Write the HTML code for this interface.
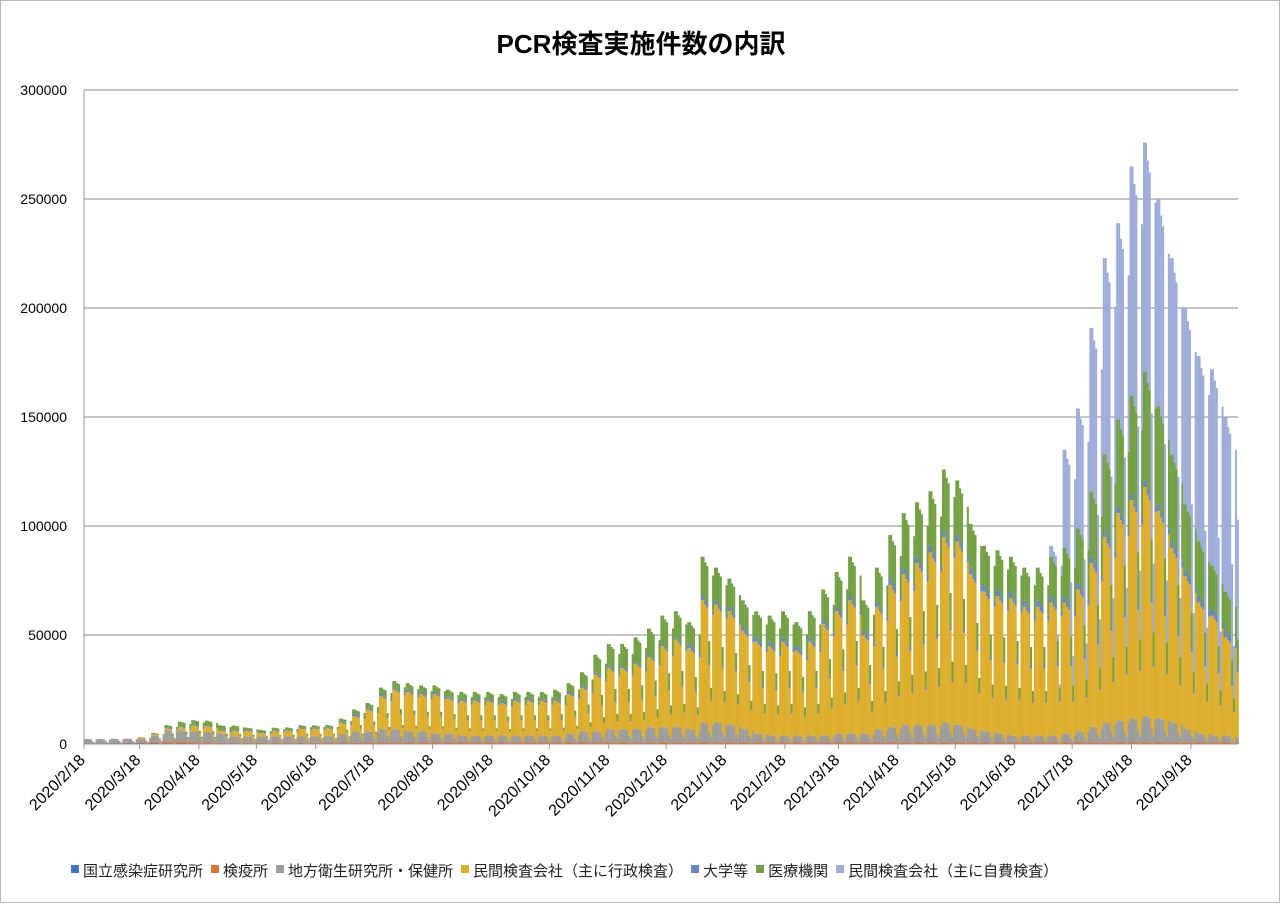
<!DOCTYPE html>
<html><head><meta charset="utf-8">
<style>
html,body{margin:0;padding:0;background:#fff;}
#wrap{position:relative;width:1278px;height:901px;border:1px solid #bbb;font-family:"Liberation Sans","Noto Sans CJK JP",sans-serif;}
svg{position:absolute;left:0;top:0;}
</style></head>
<body>
<div id="wrap">
<svg id="chart" width="1280" height="903">
<text x="640" y="52" text-anchor="middle" font-size="26" font-weight="bold" fill="#000">PCR検査実施件数の内訳</text>
</svg>
</div>
<script>
const startDate = "2020-02-18";
const dayCount = 603;
const tickLabels = ["2020/2/18","2020/3/18","2020/4/18","2020/5/18","2020/6/18","2020/7/18","2020/8/18","2020/9/18","2020/10/18","2020/11/18","2020/12/18","2021/1/18","2021/2/18","2021/3/18","2021/4/18","2021/5/18","2021/6/18","2021/7/18","2021/8/18","2021/9/18"];
const yTicks = [0,50000,100000,150000,200000,250000,300000];
const seriesNames = ["国立感染症研究所","検疫所","地方衛生研究所・保健所","民間検査会社（主に行政検査）","大学等","医療機関","民間検査会社（主に自費検査）"];
const seriesColors = ["#4472c4","#d9773a","#9c9c9c","#dcae2c","#6688bf","#72a043","#9eacda"];
// weekly weekday-level values (thousands of tests), week 0 starts 2020/2/18
const niidWeekly = [0.2,0.2,0.2,0.2,0.2,0.2,0.2,0.2,0.1,0.1,0.1,0.1,0.1,0.1,0.1,0.1,0.1,0.1,0.1,0.1,0.1,0.1,0.1,0.1,0.1,0.1,0.1,0.1,0.1,0.1,0.1,0.1,0.1,0.1,0.1,0.1,0.1,0.1,0.1,0.1,0.1,0.1,0.1,0.1,0.1,0.1,0.1,0.1,0.1,0.1,0.1,0.1,0.1,0.1,0.1,0.1,0.1,0.1,0.1,0.1,0.1,0.1,0.1,0.1,0.1,0.1,0.1,0.1,0.1,0.1,0.1,0.1,0.1,0.1,0.1,0.1,0.1,0.1,0.1,0.1,0.1,0.1,0.1,0.1,0.1,0.1,0.1];
const quarantineWeekly = [0.1,0.1,0.2,0.3,0.5,0.8,1,1,0.8,0.6,0.5,0.4,0.4,0.4,0.4,0.5,0.5,0.5,0.6,0.6,0.7,0.7,0.8,0.8,0.8,0.8,0.8,0.8,0.8,0.8,0.8,0.8,0.8,0.8,0.8,0.8,0.8,0.8,0.8,0.8,0.8,0.8,0.8,0.8,0.8,0.8,0.8,0.8,0.8,0.8,0.8,0.8,0.8,0.8,0.8,0.8,0.8,0.8,0.8,0.8,0.8,0.8,0.8,0.8,0.8,0.8,0.8,0.8,0.8,0.8,0.8,0.8,0.8,0.8,0.8,0.8,0.8,0.8,0.8,0.8,0.8,0.8,0.8,0.8,0.8,0.8,0.8];
const localLabWeekly = [2,2,2,2,2,3,5,5,5,5,4,3,3,3,3,3,3,3,3,4,5,5,6,6,5,5,4,4,3,3,3,3,3,3,3,3,4,5,5,6,6,6,7,7,7,6,9,9,8,6,4,3,3,3,3,3,4,4,4,6,7,8,8,8,9,8,6,5,4,3,3,3,3,4,5,7,9,10,11,12,11,9,6,4,3,3,2];
const privateAdminWeekly = [0,0,0,0,0.5,0.5,1,1.5,2.5,2.5,1.5,2.5,2.5,1.5,2.5,2.5,3.5,3.5,3.5,5,7,10,15,18,18,17,18,16,16,16,16,15,16,16,16,16,18,20,26,28,28,30,32,37,40,37,56,54,52,45,42,41,43,39,43,51,56,61,45,56,65,69,74,79,85,84,71,64,63,63,59,59,61,60,65,75,85,95,100,105,95,80,70,60,55,45,30];
const universityWeekly = [0,0,0,0,0,0,0.5,0.5,0.5,0.5,0.5,0.5,0.5,0.5,0.5,0.5,0.5,0.5,0.5,0.5,1,1,1,1,1,1,1,1,1,1,1,1,1,1,1,1,1,1,1,1,1,1,1,1,1,2,2,2,2,2,2,2,2,2,2,2,2,2,2,2,3,3,3,3,3,3,3,3,3,3,3,3,3,3,3,3,3,3,3,3,3,3,3,3,3,3,3];
const medicalWeekly = [0,0,0,0,0,0.5,1,2,2,2,2,2,1,1,1,1,1,1,1,1.5,2,2,3,3,3,3,3,3,3,3,3,3,3,3,3,4,4,6,8,10,10,11,12,13,12,10,18,15,13,12,12,12,12,11,12,14,16,18,14,16,20,25,25,25,28,25,20,18,18,16,15,15,18,22,25,30,35,40,45,50,45,40,30,25,20,18,12];
const privateSelfWeekly = [0,0,0,0,0,0,0,0,0,0,0,0,0,0,0,0,0,0,0,0,0,0,0,0,0,0,0,0,0,0,0,0,0,0,0,0,0,0,0,0,0,0,0,0,0,0,0,0,0,0,0,0,0,0,0,0,0,0,0,0,0,0,0,0,0,0,0,0,0,0,0,0,5,45,55,75,90,90,105,105,95,90,90,85,90,80,55];
// weekday profile, Tue..Mon
const weekdayProfile = [1,1,0.97,0.95,0.55,0.3,0.9];

const svg = document.getElementById('chart');
const NS = 'http://www.w3.org/2000/svg';
const X0 = 83, PXDAY = 1.915, PLOT_R = 1237, Y0 = 743, YTOP = 89, YMAX = 300000;
function xScale(d){ return X0 + d*PXDAY; }
function yScale(v){ return Y0 - v/YMAX*(Y0-YTOP); }
function mk(tag, attrs){ const e=document.createElementNS(NS,tag); for(const k in attrs) e.setAttribute(k,attrs[k]); svg.appendChild(e); return e; }

yTicks.forEach(v=>{
  const y=yScale(v);
  const g=mk('line',{x1:X0,x2:PLOT_R,y1:y,y2:y,stroke:v===0?'#999':'#8a8a8a','stroke-width':1});
  
  
  const t=mk('text',{x:66,y:y+5,'text-anchor':'end','font-size':14,fill:'#000'});
  t.textContent=String(v);
  
  
});
const ax=mk('line',{x1:X0,x2:X0,y1:YTOP,y2:Y0,stroke:'#999','stroke-width':1});



const stacks=[niidWeekly,quarantineWeekly,localLabWeekly,privateAdminWeekly,universityWeekly,medicalWeekly,privateSelfWeekly];
const barGroup=document.createElementNS(NS,'g');


svg.appendChild(barGroup);
for(let d=0; d<dayCount; d++){
  const w=Math.floor(d/7), f=weekdayProfile[d%7];
  let base=0;
  stacks.forEach((arr,si)=>{
    const v=(arr[Math.min(w,arr.length-1)]||0)*1000*f;
    if(v<=0) return;
    const y1=yScale(base), y2=yScale(base+v);
    const r=document.createElementNS(NS,'rect');
    r.setAttribute('x',xScale(d).toFixed(2));
    r.setAttribute('y',y2.toFixed(2));
    r.setAttribute('width',(PXDAY+0.1).toFixed(2));
    r.setAttribute('height',(y1-y2).toFixed(2));
    r.setAttribute('fill',seriesColors[si]);
    
    
    barGroup.appendChild(r);
    base+=v;
  });
}

const t0=Date.UTC(2020,1,18);
tickLabels.forEach(lab=>{
  const p=lab.split('/').map(Number);
  const d=Math.round((Date.UTC(p[0],p[1]-1,p[2])-t0)/86400000);
  const x=xScale(d);
  const tk=mk('line',{x1:x,x2:x,y1:Y0,y2:Y0+5,stroke:'#999'});
  
  
  const t=mk('text',{x:x+2,y:Y0+17,'text-anchor':'end','font-size':16,fill:'#000',transform:`rotate(-45 ${x+2} ${Y0+17})`});
  t.textContent=lab;
  
  
});

let lx=70;
seriesNames.forEach((n,i)=>{
  const s=mk('rect',{x:lx,y:864,width:8,height:8,fill:seriesColors[i]});
  
  
  const t=mk('text',{x:lx+12,y:875,'font-size':15,fill:'#222'});
  t.textContent=n;
  
  
  lx+=12+t.getComputedTextLength()+8;
});
</script>
</body></html>
